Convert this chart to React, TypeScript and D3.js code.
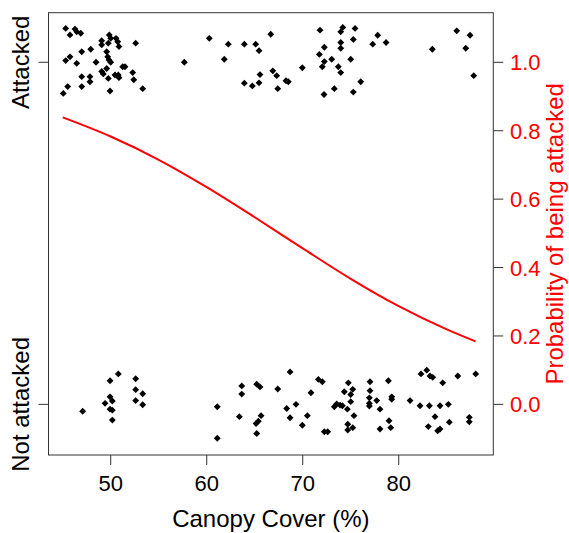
import React from "react";
import * as d3 from "d3";

// Canopy cover (%) and jittered response for attacked trees (response = 1)
const attackedPoints: [number, number][] = [
  [45.31, 1.099], [45.76, 1.08], [46.28, 1.097], [46.46, 1.089], [46.88, 1.085],
  [49.06, 1.063], [49.85, 1.08], [50.0, 1.07], [50.55, 1.07], [50.73, 1.06],
  [49.06, 1.051], [49.75, 1.056], [50.86, 1.046], [52.6, 1.056], [60.27, 1.07],
  [47.92, 1.038], [46.98, 1.031], [45.76, 1.016], [45.31, 1.005], [46.46, 0.997],
  [48.47, 1.0], [49.58, 1.031], [49.69, 1.016], [49.82, 1.007], [50.0, 1.0],
  [57.67, 1.0], [51.25, 0.987], [51.49, 0.987], [49.58, 0.982], [49.06, 0.973],
  [49.23, 0.966], [50.45, 0.963], [50.79, 0.963], [50.86, 0.955], [49.75, 0.953],
  [52.29, 0.97], [52.4, 0.949], [46.98, 0.958], [47.84, 0.958], [47.84, 0.943],
  [46.98, 0.929], [45.52, 0.929], [45.06, 0.909], [49.93, 0.916], [53.33, 0.923],
  [66.67, 1.082], [62.25, 1.053], [63.92, 1.053], [65.1, 1.053], [65.45, 1.034],
  [61.83, 1.009], [71.8, 1.094], [74.17, 1.102], [73.96, 1.089], [75.45, 1.099],
  [75.27, 1.067], [73.96, 1.058], [73.96, 1.041], [72.25, 1.044], [71.73, 1.023],
  [72.25, 1.002], [73.02, 1.009], [75.0, 1.009], [72.04, 0.987], [73.71, 0.987],
  [73.96, 0.97], [69.96, 0.984], [66.88, 0.975], [67.29, 0.961], [65.55, 0.964],
  [63.92, 0.939], [64.75, 0.931], [65.45, 0.94], [68.26, 0.946], [68.5, 0.943],
  [67.4, 0.923], [72.22, 0.906], [73.29, 0.923], [75.27, 0.913], [76.04, 0.943],
  [77.81, 1.079], [78.68, 1.058], [77.29, 1.053], [83.5, 1.038], [86.04, 1.092],
  [87.43, 1.079], [86.98, 1.041], [87.81, 0.961],
];

// Canopy cover (%) and jittered response for trees not attacked (response = 0)
const notAttackedPoints: [number, number][] = [
  [47.08, -0.02], [49.41, 0.003], [49.93, 0.022], [50.17, 0.01], [49.93, -0.014],
  [50.17, -0.017], [50.17, -0.046], [49.93, 0.069], [50.79, 0.089], [52.6, 0.075],
  [52.6, 0.043], [53.33, 0.031], [52.6, 0.011], [53.33, -0.001], [61.1, -0.007],
  [61.1, -0.099], [63.65, 0.054], [63.65, 0.03], [63.4, -0.036], [65.21, 0.059],
  [65.55, 0.051], [67.4, 0.045], [68.68, 0.095], [71.63, 0.073], [72.04, 0.066],
  [70.86, 0.034], [74.75, 0.063], [74.33, 0.037], [75.21, 0.044], [75.0, 0.029],
  [75.0, 0.008], [73.54, 0.001], [73.29, -0.007], [73.89, -0.002], [74.13, -0.004],
  [74.65, -0.014], [75.34, -0.033], [74.69, -0.058], [74.69, -0.075], [75.21, -0.068],
  [72.25, -0.08], [72.6, -0.08], [68.33, -0.012], [69.3, 0.0], [68.68, -0.039],
  [70.48, -0.033], [69.96, -0.061], [65.66, -0.033], [65.38, -0.049], [65.14, -0.056],
  [65.21, -0.085], [77.01, 0.066], [77.01, 0.04], [76.94, 0.019], [76.94, 0.003],
  [76.94, -0.005], [77.71, 0.011], [78.05, -0.014], [78.92, 0.069], [79.27, 0.022],
  [79.27, 0.015], [78.99, -0.048], [79.17, -0.068], [78.05, -0.072], [81.18, 0.011],
  [82.32, 0.089], [82.92, 0.1], [83.26, 0.083], [83.54, 0.079], [84.58, 0.063],
  [86.15, 0.083], [88.02, 0.089], [82.22, -0.004], [83.19, -0.004], [84.3, -0.004],
  [85.17, 0.0], [83.78, -0.036], [85.27, -0.052], [83.08, -0.065], [84.3, -0.072],
  [84.06, -0.077], [87.35, -0.038], [87.35, -0.051],
];

// Fitted probability curve
const curveCanopy = [45, 50, 55, 60, 65, 70, 75, 80, 85, 88];
const curveProb = [0.839, 0.783, 0.715, 0.635, 0.547, 0.456, 0.367, 0.287, 0.219, 0.184];

const xTicks = [50, 60, 70, 80];
const probTicks = [0, 0.2, 0.4, 0.6, 0.8, 1.0];
const responseTicks = [
  { value: 0, label: "Not attacked" },
  { value: 1, label: "Attacked" },
];
const xTitle = "Canopy Cover (%)";
const rightTitle = "Probability of being attacked";

const W = 569;
const H = 533;
const box = { left: 48.5, right: 493.3, top: 12.7, bottom: 455 };
const FONT = "'Liberation Sans', Arial, Helvetica, sans-serif";
const AXIS = "#333";

export default function App() {
  const x = d3.scaleLinear().domain([43.52, 89.85]).range([box.left, box.right]);
  const y = d3.scaleLinear().domain([-0.148, 1.145]).range([box.bottom, box.top]);

  const diamond = d3.symbol().type(d3.symbolDiamond2).size(30)() as string;

  const line = d3
    .line<number>()
    .x((_, i) => x(curveCanopy[i]))
    .y((d) => y(d))
    .curve(d3.curveMonotoneX)(curveProb) as string;

  const allPts = [...attackedPoints, ...notAttackedPoints];

  return (
    <svg
      width={W}
      height={H}
      style={{ position: "absolute", left: 0, top: 0, background: "#fff" }}
      fontFamily={FONT}
    >
      <rect x={0} y={0} width={W} height={H} fill="#fff" />
      {/* points */}
      {allPts.map((p, i) => (
        <path key={i} d={diamond} transform={`translate(${x(p[0])},${y(p[1])})`} fill="#000" />
      ))}
      {/* fitted curve */}
      <path d={line} fill="none" stroke="#ff0000" strokeWidth={2} />
      {/* box */}
      <rect
        x={box.left}
        y={box.top}
        width={box.right - box.left}
        height={box.bottom - box.top}
        fill="none"
        stroke={AXIS}
        strokeWidth={1}
      />
      {/* bottom axis */}
      {xTicks.map((t) => (
        <g key={t}>
          <line x1={x(t)} x2={x(t)} y1={box.bottom} y2={box.bottom + 10} stroke={AXIS} />
          <text x={x(t)} y={490.5} textAnchor="middle" fontSize={22} fill="#000">
            {t}
          </text>
        </g>
      ))}
      <text x={(box.left + box.right) / 2} y={526.5} textAnchor="middle" fontSize={24} fill="#000">
        {xTitle}
      </text>
      {/* left axis */}
      {responseTicks.map((t) => (
        <g key={t.label}>
          <line x1={box.left - 10} x2={box.left} y1={y(t.value)} y2={y(t.value)} stroke={AXIS} />
          <text
            transform={`translate(29,${y(t.value)}) rotate(-90)`}
            textAnchor="middle"
            fontSize={24}
            fill="#000"
          >
            {t.label}
          </text>
        </g>
      ))}
      {/* right axis */}
      {probTicks.map((t) => (
        <g key={t}>
          <line x1={box.right} x2={box.right + 10} y1={y(t)} y2={y(t)} stroke={AXIS} />
          <text x={510} y={y(t) + 8} textAnchor="start" fontSize={22} fill="#ff0000">
            {t.toFixed(1)}
          </text>
        </g>
      ))}
      <text
        transform={`translate(563,${(box.top + box.bottom) / 2}) rotate(-90)`}
        textAnchor="middle"
        fontSize={24}
        fill="#ff0000"
      >
        {rightTitle}
      </text>
    </svg>
  );
}
